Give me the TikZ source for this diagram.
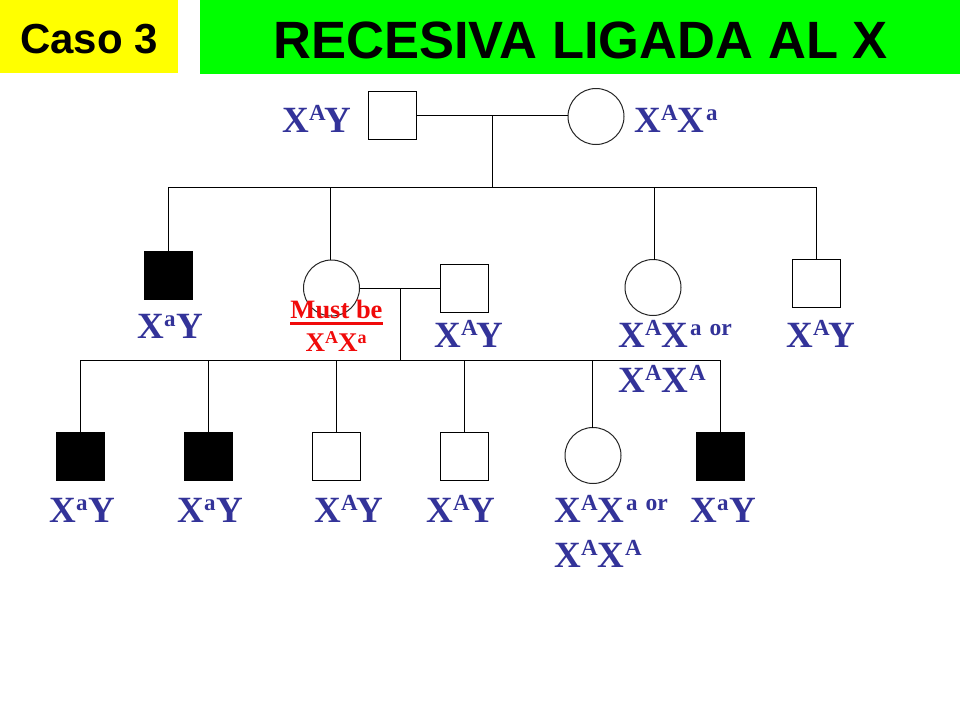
\documentclass[tikz,border=0pt]{standalone}
\usepackage{fontspec}
\setmainfont{Liberation Serif}
\setsansfont{Liberation Sans}
\definecolor{geno}{RGB}{51,51,153}
\definecolor{ttl}{RGB}{0,255,0}
\definecolor{cas}{RGB}{255,255,0}
\definecolor{must}{RGB}{240,10,10}
\newcommand{\Sp}[1]{\raisebox{11.5pt}{\fontsize{23}{23}\selectfont #1}}
\newcommand{\XX}{\fontsize{37}{37}\selectfont\bfseries}
\newcommand{\OrWord}{\kern8pt{\fontsize{23.6}{23.6}\selectfont\raisebox{11.5pt}{or}}}
\newcommand{\GAY}{X\kern0.5pt\Sp{A}\kern-1pt Y}
\newcommand{\GaY}{X\kern0.5pt\Sp{a}\kern0.5pt Y}
\newcommand{\GAa}{X\kern0.5pt\Sp{A}X\kern1.5pt\Sp{a}}
\newcommand{\GAA}{X\kern0.5pt\Sp{A}X\kern0.5pt\Sp{A}}
\begin{document}
\begin{tikzpicture}[x=1pt,y=-1pt,
  every node/.style={inner sep=0pt,outer sep=0pt},
  line/.style={draw=black,line width=0.95pt},
  male/.style={rectangle,draw=black,line width=0.95pt,fill=white,minimum size=48pt},
  affected/.style={rectangle,draw=black,line width=0.95pt,fill=black,minimum size=48pt},
  female/.style={circle,draw=black!85,line width=1pt,fill=white,minimum size=56pt},
  geno/.style={anchor=base west,text=geno,font=\XX}]
\useasboundingbox (0,0) rectangle (960,720);
\fill[cas] (0,0) rectangle (178,73);
\fill[ttl] (200,0) rectangle (960,74);
\node[anchor=base,text=black,font=\fontsize{42}{42}\selectfont\sffamily\bfseries] (caso) at (89,53) {Caso 3};
\node[anchor=base,text=black,font=\fontsize{52.5}{52.5}\selectfont\sffamily\bfseries] (title) at (580.5,58) {RECESIVA LIGADA AL X};

\coordinate (j0) at (492,115);
\coordinate (b0) at (492,187);
\coordinate (bl) at (168,187);
\coordinate (bd2) at (330,187);
\coordinate (bd3) at (654,187);
\coordinate (br) at (816,187);
\coordinate (j1) at (400,288);
\coordinate (b1) at (400,360);
\coordinate (c1) at (80,360);
\coordinate (c2) at (208,360);
\coordinate (c3) at (336,360);
\coordinate (c4) at (464,360);
\coordinate (c5) at (592,360);
\coordinate (c6) at (720,360);

\node[male] (father) at (392,115) {};
\node[female] (mother) at (596,116.5) {};
\node[affected] (g1) at (168.5,275.5) {};
\node[female] (g2) at (331.5,288) {};
\node[male] (g2m) at (464.5,288) {};
\node[female] (g3) at (653,287.5) {};
\node[male] (g4) at (816,283) {};
\node[affected] (k1) at (80.5,456.5) {};
\node[affected] (k2) at (208.5,456.5) {};
\node[male] (k3) at (336.5,456.5) {};
\node[male] (k4) at (464.5,456.5) {};
\node[female] (k5) at (593,455.5) {};
\node[affected] (k6) at (720.5,456.5) {};

\draw[line] (father.east) -- (father.east -| mother.west);
\draw[line] (j0) -- (b0);
\draw[line] (bl) -- (br);
\draw[line] (bl) -- (bl |- g1.north);
\draw[line] (bd2) -- (bd2 |- g2.north);
\draw[line] (bd3) -- (bd3 |- g3.north);
\draw[line] (br) -- (br |- g4.north);
\draw[line] (g2.east) -- (g2m.west);
\draw[line] (j1) -- (b1);
\draw[line] (c1) -- (c6);
\draw[line] (c1) -- (c1 |- k1.north);
\draw[line] (c2) -- (c2 |- k2.north);
\draw[line] (c3) -- (c3 |- k3.north);
\draw[line] (c4) -- (c4 |- k4.north);
\draw[line] (c5) -- (c5 |- k5.north);
\draw[line] (c6) -- (c6 |- k6.north);

\node[geno] (t0) at (282,132) {\GAY};
\node[geno] (t1) at (634,132) {\GAa};
\node[geno] (t2) at (137,338) {\GaY};
\node[geno] (t3) at (434,347) {\GAY};
\node[geno] (t4) at (618,347) {\GAa\OrWord};
\node[geno] (t4b) at (618,392) {\GAA};
\node[geno] (t5) at (786,347) {\GAY};
\node[geno] (u1) at (49,522) {\GaY};
\node[geno] (u2) at (177,522) {\GaY};
\node[geno] (u3) at (314,522) {\GAY};
\node[geno] (u4) at (426,522) {\GAY};
\node[geno] (u5) at (554,522) {\GAa\OrWord};
\node[geno] (u5b) at (554,567) {\GAA};
\node[geno] (u6) at (690,522) {\GaY};

\node[anchor=base,text=must,font=\fontsize{26.5}{26.5}\selectfont\bfseries] (mb) at (336.5,318) {Must be};
\fill[must] (290,322) rectangle (383,325);
\node[anchor=base,text=must,font=\fontsize{27}{27}\selectfont\bfseries] (mg) at (336,351)
  {X\raisebox{8pt}{\fontsize{18}{18}\selectfont A}X\raisebox{8pt}{\fontsize{18}{18}\selectfont a}};
\end{tikzpicture}
\end{document}
